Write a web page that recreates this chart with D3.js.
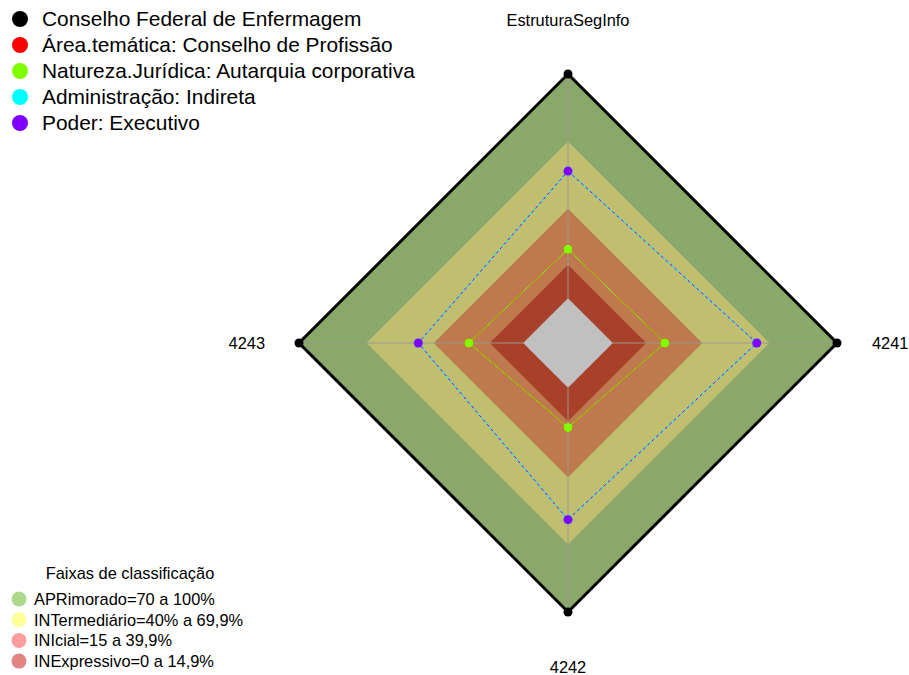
<!DOCTYPE html>
<html>
<head>
<meta charset="utf-8">
<script src="https://cdn.jsdelivr.net/npm/d3@7"></script>
<style>
  body { margin: 0; background: #fff; }
  text { font-family: "Liberation Sans", Arial, sans-serif; fill: #000; }
</style>
</head>
<body>
<div id="chart"></div>
<script>
"use strict";

// axes, clockwise from top
const axes = ["EstruturaSegInfo", "4241", "4242", "4243"];

// series (values 0..1)
const seriesNames = [
  "Conselho Federal de Enfermagem",
  "Área.temática: Conselho de Profissão",
  "Natureza.Jurídica: Autarquia corporativa",
  "Administração: Indireta",
  "Poder: Executivo",
];
const seriesColors = ["#000000", "#ff0000", "#7fff00", "#00ffff", "#8000ff"];
const seriesValues = [
  [1.0, 1.0, 1.0, 1.0],
  [0.218, 0.232, 0.177, 0.242],
  [0.218, 0.232, 0.177, 0.242],
  [0.567, 0.642, 0.588, 0.468],
  [0.567, 0.642, 0.588, 0.468],
];

// classification bands
const bandNames = [
  "APRimorado=70 a 100%",
  "INTermediário=40% a 69,9%",
  "INIcial=15 a 39,9%",
  "INExpressivo=0 a 14,9%",
];
const bandTops = [1.0, 0.699, 0.399, 0.149];
const bandFill = ["#8aa86a", "#c0bf70", "#bf794e", "#a8402a"];
const bandLegend = ["#acd98c", "#ffff99", "#ff9c9c", "#e08484"];

const W = 909, H = 675;
const cx = 568, cy = 343, R = 269;
const seg = 5;

// fmsb-like scale: 0 sits at 1/(seg+1) of the radius
const r = d3.scaleLinear().domain([0, 1]).range([R / (seg + 1), R]);
const angle = d3.scaleLinear().domain([0, axes.length]).range([0, 2 * Math.PI]);

function pt(v, i) {
  const a = angle(i);
  return [cx + r(v) * Math.sin(a), cy - r(v) * Math.cos(a)];
}
function poly(vals) {
  return vals.map((v, i) => pt(v, i));
}

const svg = d3.select("#chart").append("svg")
  .attr("width", W).attr("height", H)
  .attr("viewBox", [0, 0, W, H]);

const line = d3.line().curve(d3.curveLinearClosed);

// bands
svg.append("g").selectAll("path")
  .data(bandTops)
  .join("path")
  .attr("d", t => line(axes.map((_, i) => pt(t, i))))
  .attr("fill", (d, i) => bandFill[i]);

// inner grey core
svg.append("path")
  .attr("d", line(axes.map((_, i) => pt(0, i))))
  .attr("fill", "#c0c0c0");

// axis lines
svg.append("g").selectAll("line")
  .data(axes)
  .join("line")
  .attr("x1", (d, i) => pt(0, i)[0])
  .attr("y1", (d, i) => pt(0, i)[1])
  .attr("x2", (d, i) => pt(1, i)[0])
  .attr("y2", (d, i) => pt(1, i)[1])
  .attr("stroke", "#9a9a8a")
  .attr("stroke-width", 1);

// series
const sg = svg.append("g").selectAll("g")
  .data(seriesValues)
  .join("g");

sg.append("path")
  .attr("d", d => line(poly(d)))
  .attr("fill", "none")
  .attr("stroke", (d, i) => seriesColors[i])
  .attr("stroke-width", (d, i) => i === 0 ? 3 : 1)
  .attr("stroke-dasharray", (d, i) => i === 4 ? "3,3" : null);

sg.selectAll("circle")
  .data((d, i) => d.map(v => ({ v, s: i })))
  .join("circle")
  .attr("cx", (d, i) => pt(d.v, i)[0])
  .attr("cy", (d, i) => pt(d.v, i)[1])
  .attr("r", 4.5)
  .attr("fill", d => seriesColors[d.s]);

// axis labels
const labelPos = [
  { x: cx, y: 26, anchor: "middle" },
  { x: 872, y: 349, anchor: "start" },
  { x: cx, y: 673, anchor: "middle" },
  { x: 265, y: 349, anchor: "end" },
];
svg.append("g").selectAll("text")
  .data(axes)
  .join("text")
  .attr("x", (d, i) => labelPos[i].x)
  .attr("y", (d, i) => labelPos[i].y)
  .attr("text-anchor", (d, i) => labelPos[i].anchor)
  .attr("font-size", 16.4)
  .text(d => d);

// series legend
const lg = svg.append("g").selectAll("g")
  .data(seriesNames)
  .join("g")
  .attr("transform", (d, i) => `translate(20, ${19 + i * 26})`);
lg.append("circle").attr("r", 8).attr("fill", (d, i) => seriesColors[i]);
lg.append("text")
  .attr("x", 22).attr("y", 7)
  .attr("font-size", 20.9)
  .text(d => d);

// band legend
svg.append("text")
  .attr("x", 130).attr("y", 579)
  .attr("text-anchor", "middle")
  .attr("font-size", 16.4)
  .text("Faixas de classificação");

const bl = svg.append("g").selectAll("g")
  .data(bandNames)
  .join("g")
  .attr("transform", (d, i) => `translate(19, ${599 + i * 20.7})`);
bl.append("circle").attr("r", 7.5).attr("fill", (d, i) => bandLegend[i]);
bl.append("text")
  .attr("x", 15).attr("y", 6)
  .attr("font-size", 16.4)
  .text(d => d);
</script>
</body>
</html>
